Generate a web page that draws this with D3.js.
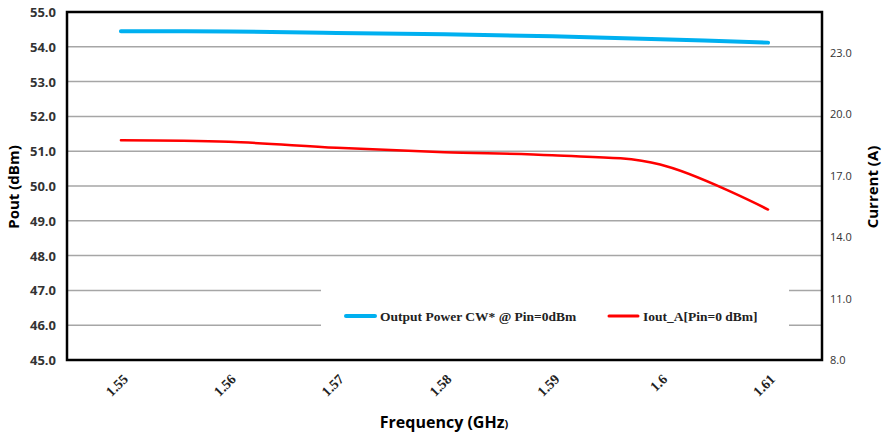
<!DOCTYPE html>
<html>
<script src="https://d3js.org/d3.v7.min.js"></script>
<body style="margin:0;background:#fff">
<svg width="885" height="434"></svg>
<script>
// data
var freqs   = ["1.55", "1.56", "1.57", "1.58", "1.59", "1.6", "1.61"],
    pout    = [54.45, 54.44, 54.40, 54.36, 54.30, 54.22, 54.12],
    iout    = [18.73, 18.66, 18.37, 18.15, 18.00, 17.55, 15.35],
    leftTicks  = [45, 46, 47, 48, 49, 50, 51, 52, 53, 54, 55],
    rightTicks = [8, 11, 14, 17, 20, 23];

var svg = d3.select("svg"),
    L = 67, R = 822, T = 12, B = 360;

var x  = d3.scalePoint().domain(freqs).range([L, R]).padding(0.5),
    yL = d3.scaleLinear().domain([45, 55]).range([B, T]),
    yR = d3.scaleLinear().domain([8, 25]).range([B, T]);

// grid
svg.append("g").selectAll("line")
  .data(leftTicks.filter(function(d) { return d > 45 && d < 55; }))
  .join("line")
  .attr("x1", L).attr("x2", R)
  .attr("y1", function(d) { return yL(d); }).attr("y2", function(d) { return yL(d); })
  .attr("stroke", "#a6a6a6").attr("stroke-width", 1.5);

// legend box hides part of the lower grid
svg.append("rect").attr("x", 321).attr("y", 280).attr("width", 468).attr("height", 62).attr("fill", "#fff");

// lines
var lineL = d3.line().x(function(d, i) { return x(freqs[i]); }).y(function(d) { return yL(d); }).curve(d3.curveCatmullRom),
    lineR = d3.line().x(function(d, i) { return x(freqs[i]); }).y(function(d) { return yR(d); }).curve(d3.curveCatmullRom);

svg.append("path").datum(pout).attr("d", lineL)
  .attr("fill", "none").attr("stroke", "#00b0f0").attr("stroke-width", 4).attr("stroke-linecap", "round");
svg.append("path").datum(iout).attr("d", lineR)
  .attr("fill", "none").attr("stroke", "#ff0000").attr("stroke-width", 2.5).attr("stroke-linecap", "round");

// frame
svg.append("rect").attr("x", L).attr("y", T).attr("width", R - L).attr("height", B - T)
  .attr("fill", "none").attr("stroke", "#000").attr("stroke-width", 2.5);

// left axis labels
svg.append("g").selectAll("text").data(leftTicks).join("text")
  .attr("x", 56).attr("y", function(d) { return yL(d) + 5; })
  .attr("text-anchor", "end")
  .style("font", "bold 13px 'Open Sans', sans-serif").attr("fill", "#333")
  .text(function(d) { return d.toFixed(1); });

// right axis labels
svg.append("g").selectAll("text").data(rightTicks).join("text")
  .attr("x", 830).attr("y", function(d) { return yR(d) + 4; })
  .style("font", "11px 'Open Sans', sans-serif").attr("fill", "#333")
  .text(function(d) { return d.toFixed(1); });

// x labels
svg.append("g").selectAll("text").data(freqs).join("text")
  .attr("transform", function(d) { return "translate(" + (x(d) + 8) + ",380) rotate(-45)"; })
  .attr("text-anchor", "end")
  .style("font", "bold 14px 'Liberation Serif', serif").attr("fill", "#222")
  .text(function(d) { return d; });

// axis titles
svg.append("text").attr("transform", "translate(19,187) rotate(-90)")
  .attr("text-anchor", "middle").style("font", "bold 15px 'Open Sans', sans-serif")
  .text("Pout (dBm)");
svg.append("text").attr("transform", "translate(878,187) rotate(-90)")
  .attr("text-anchor", "middle").style("font", "bold 15px 'Open Sans', sans-serif")
  .text("Current (A)");
var xt = svg.append("text").attr("x", 444).attr("y", 428)
  .attr("text-anchor", "middle").style("font", "bold 16px 'Open Sans', sans-serif");
xt.append("tspan").text("Frequency (GHz");
xt.append("tspan").style("font-size", "11px").text(")");

// legend
var legend = [
  {label: "Output Power CW* @ Pin=0dBm", color: "#00b0f0", w: 4, x: 346},
  {label: "Iout_A[Pin=0 dBm]", color: "#ff0000", w: 3, x: 609}
];
var lg = svg.append("g").selectAll("g").data(legend).join("g")
  .attr("transform", function(d) { return "translate(" + d.x + ",316)"; });
lg.append("line").attr("x1", 0).attr("x2", 29)
  .attr("stroke", function(d) { return d.color; }).attr("stroke-width", function(d) { return d.w; })
  .attr("stroke-linecap", "round");
lg.append("text").attr("x", 34).attr("y", 4.5)
  .style("font", "bold 13.5px 'Liberation Serif', serif").attr("fill", "#222")
  .text(function(d) { return d.label; });
</script>
</body>
</html>
